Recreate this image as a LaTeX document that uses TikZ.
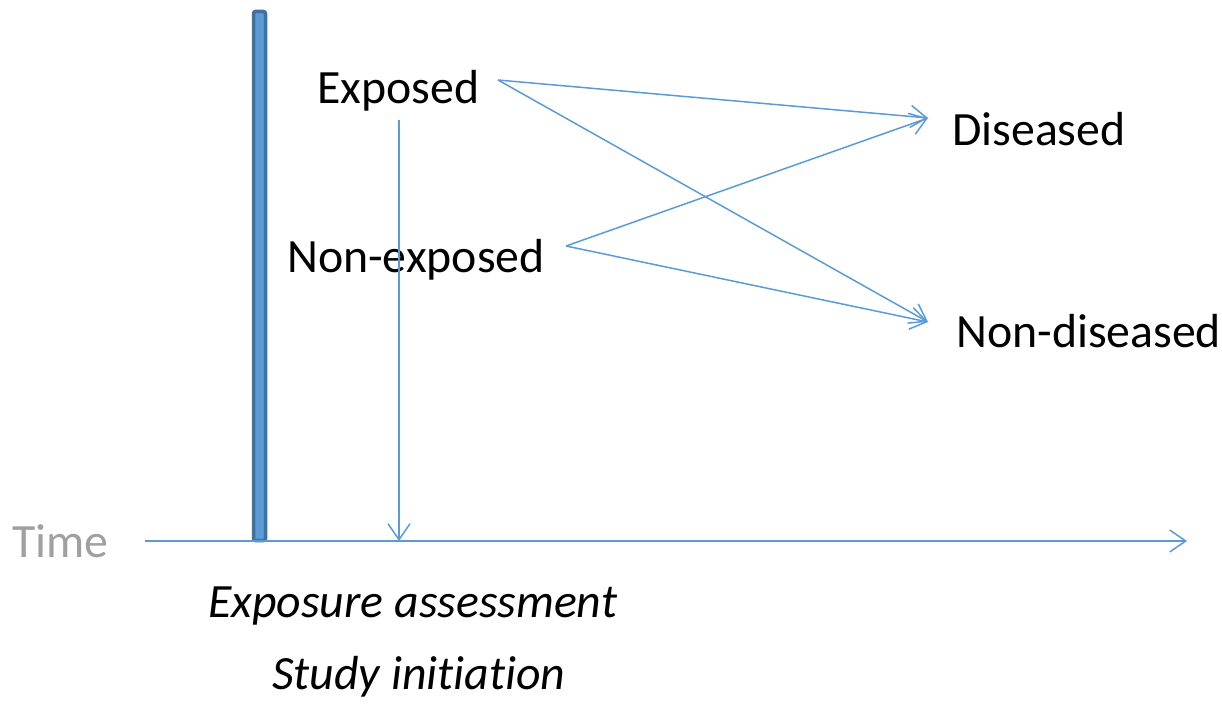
\documentclass[tikz,border=0pt]{standalone}
\usepackage{fontspec}
\setmainfont[Ligatures=NoCommon]{Carlito}
\usetikzlibrary{arrows.meta}
\definecolor{lineblue}{HTML}{5B9BD5}
\definecolor{barborder}{HTML}{41719C}
\definecolor{timegray}{HTML}{A0A0A0}
\tikzset{
  lbl/.style={anchor=base west, inner sep=0pt, font=\fontsize{47.8}{56}\selectfont},
  ilbl/.style={lbl, font=\fontsize{47.8}{56}\selectfont\itshape},
  conn/.style={draw=lineblue, line width=1.5pt, -{Straight Barb[length=16pt,width=22pt,line width=1.5pt]}},
}
\begin{document}
\begin{tikzpicture}[x=1pt,y=-1pt]
\useasboundingbox (0,0) rectangle (1222,706);
% vertical bar
\draw[draw=barborder, fill=lineblue, line width=3.5pt, rounded corners=2pt] (253.5,11.5) rectangle (265.5,540.5);
% texts
\node[lbl] (exp) at (317,104) {Exposed};
\node[lbl] (nonexp) at (287,272) {Non-exposed};
\node[lbl] (dis) at (952,145) {Diseased};
\node[lbl] (nondis) at (956,347) {Non-diseased};
\node[lbl, text=timegray] (time) at (12,557) {Time};
\node[ilbl] (assess) at (208,617) {Exposure assessment};
\node[ilbl] (init) at (272,689) {Study initiation};
% connector ends
\coordinate (eS) at (498,80);
\coordinate (nS) at (566,246);
\coordinate (dT) at (928,118);
\coordinate (ndT) at (928,322);
\coordinate (vS) at (399,120);
\coordinate (vT) at (399,541);
\coordinate (tS) at (145,541);
\coordinate (tT) at (1187,541);
% time axis
\draw[conn] (tS) -- (tT);
\draw[conn] (vS) -- (vT);
\draw[conn] (eS) -- (dT);
\draw[conn] (eS) -- (ndT);
\draw[conn] (nS) -- (dT);
\draw[conn] (nS) -- (ndT);
\end{tikzpicture}
\end{document}
